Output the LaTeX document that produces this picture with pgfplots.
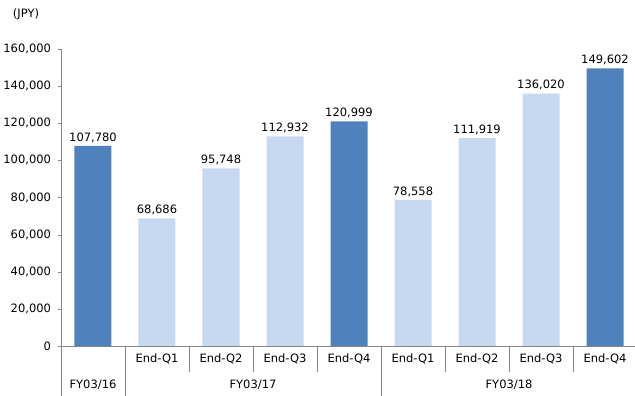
\documentclass[border=0pt]{standalone}
\usepackage{pgfplots}
\pgfplotsset{compat=1.18}
\usepackage{fontspec}
\setmainfont{DejaVu Sans}
\definecolor{dark}{HTML}{4F81BD}
\definecolor{light}{HTML}{C6D9F1}
\definecolor{axgray}{HTML}{868686}
\begin{document}
\fontsize{11.5pt}{13pt}\selectfont
\begin{tikzpicture}
\path[use as bounding box] (-61pt,-50pt) rectangle (574pt,346pt);
\begin{axis}[
  scale only axis, width=576pt, height=297pt,
  xmin=-0.5, xmax=8.5, ymin=0, ymax=160000,
  clip=false,
  axis x line*=bottom, axis y line*=left,
  axis line style={axgray},
  x axis line style={-}, y axis line style={-},
  xtick={0,...,8},
  xticklabels={,End-Q1,End-Q2,End-Q3,End-Q4,End-Q1,End-Q2,End-Q3,End-Q4},
  x tick style={draw=none},
  xticklabel style={yshift=-1pt},
  ytick={0,20000,...,160000},
  scaled y ticks=false,
  y tick style={axgray},
  tick align=outside, major tick length=3pt,
  yticklabel style={xshift=-3pt},
  /pgf/number format/.cd, fixed, 1000 sep={,}, assume math mode=true,
  /pgfplots/.cd,
  ybar, bar width=37pt, bar shift=0pt,
  nodes near coords,
  every node near coord/.append style={font=\fontsize{11.5pt}{13pt}\selectfont, black, /pgf/number format/fixed, /pgf/number format/1000 sep={,}, /pgf/number format/assume math mode=true, inner sep=3pt},
  every axis plot/.append style={draw=none},
]
\addplot[fill=dark] coordinates {(0,107780) (4,120999) (8,149602)};
\addplot[fill=light] coordinates {(1,68686) (2,95748) (3,112932) (5,78558) (6,111919) (7,136020)};
\foreach \xx in {-0.5,0.5,4.5,8.5}{
  \edef\tmp{\noexpand\draw[axgray] (axis cs:\xx,0) -- ([yshift=-50pt]axis cs:\xx,0);}\tmp
}
\foreach \xx in {1.5,2.5,3.5,5.5,6.5,7.5}{
  \edef\tmp{\noexpand\draw[axgray] (axis cs:\xx,0) -- ([yshift=-26pt]axis cs:\xx,0);}\tmp
}
\node at (axis cs:0,0) [yshift=-39pt] {FY03/16};
\node at (axis cs:2.5,0) [yshift=-39pt] {FY03/17};
\node at (axis cs:6.5,0) [yshift=-39pt] {FY03/18};
\node at (axis cs:-0.5,160000) [xshift=-35pt, yshift=35pt] {(JPY)};
\end{axis}
\end{tikzpicture}
\end{document}
